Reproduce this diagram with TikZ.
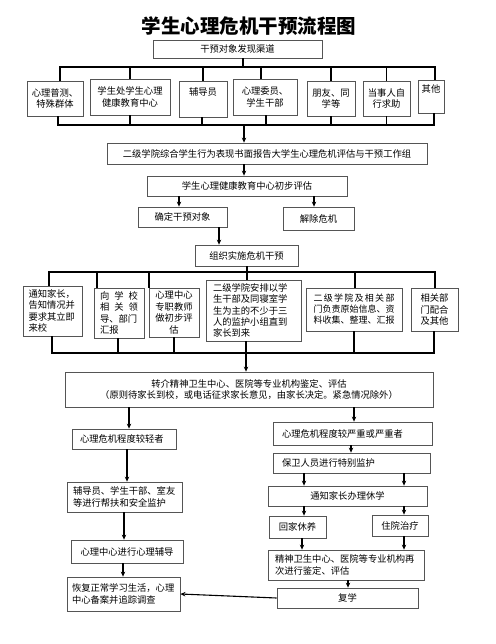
\documentclass[tikz,border=0pt]{standalone}
\usepackage{fontspec}
\setmainfont{Noto Sans CJK SC}
\usetikzlibrary{arrows.meta}
\definecolor{boxc}{RGB}{85,85,85}
\newcommand\fs{\fontsize{9.3}{11.5}\selectfont}
\newcommand\jl[1]{\noindent\hbox to \linewidth{#1}}
\tikzset{
 box/.style={draw=boxc, line width=0.8pt, inner sep=0pt, font=\fs, align=center, text=black},
 wh/.style 2 args={minimum width=#1, minimum height=#2},
 lb/.style 2 args={align=left, text width=#1, inner xsep=#2},
 conn/.style={line width=1.1pt, black},
 arr/.style={conn, -{Stealth[length=5pt,width=4.5pt]}}
}
\begin{document}
\begin{tikzpicture}[x=1pt,y=-1pt]
\useasboundingbox[fill=white] (0,0) rectangle (495,644);

% title
\node[font=\fontsize{19.5}{21}\selectfont\bfseries] (title) at (249,26.5) {学生心理危机干预流程图};

% source
\node[box, wh={169}{18}] (src) at (237.5,49) {干预对象发现渠道};

% row 1
\node[box, wh={56}{35}] (b1) at (55,98.5) {心理普测、\\特殊群体};
\node[box, wh={80}{36}] (b2) at (130,97) {学生处学生心理\\健康教育中心};
\node[box, wh={48}{36}] (b3) at (203,99) {辅导员\\\strut};
\node[box, wh={64}{36}] (b4) at (265,97) {心理委员、\\学生干部};
\node[box, wh={48}{35}] (b5) at (331,98.5) {朋友、同\\学等};
\node[box, wh={47}{35}] (b6) at (386.5,98.5) {当事人自\\行求助};
\node[box, wh={26}{33}] (b7) at (431,96.5) {其他\\\strut};

\coordinate (tbL) at (60,67);
\coordinate (tbR) at (435,67);
\coordinate (tbM) at (243,67);
\draw[conn] (tbM |- src.south) -- (tbM);
\draw[conn] (tbL |- b1.north) -- (tbL) -- (tbR) -- (tbR |- b7.north);
\draw[conn] (b2.north |- tbL) -- (b2.north);
\draw[conn] (b3.north |- tbL) -- (b3.north);
\draw[conn] ([xshift=-4pt]b4.north |- tbL) -- ([xshift=-4pt]b4.north);
\draw[conn] (b5.north |- tbL) -- (b5.north);
\draw[conn] (b6.north |- tbL) -- (b6.north);

\coordinate (bbL) at (58,125);
\coordinate (bbR) at (434,125);
\coordinate (bbM) at (244,125);
\draw[conn] (bbL |- b1.south) -- (bbL) -- (bbR) -- (bbR |- b7.south);
\draw[conn] (b2.south) -- (b2.south |- bbL);
\draw[conn] ([xshift=-1pt]b3.south) -- ([xshift=-1pt]b3.south |- bbL);
\draw[conn] ([xshift=1pt]b4.south) -- ([xshift=1pt]b4.south |- bbL);
\draw[conn] (b5.south) -- (b5.south |- bbL);
\draw[conn] (b6.south) -- (b6.south |- bbL);

% middle chain
\node[box, wh={320}{21}] (report) at (267,153.5) {二级学院综合学生行为表现书面报告大学生心理危机评估与干预工作组};
\node[box, wh={200}{20}] (assess) at (247,186) {学生心理健康教育中心初步评估};
\node[box, wh={89}{20}] (confirm) at (182.5,217) {确定干预对象};
\node[box, wh={71}{23}] (release) at (318.5,218.5) {解除危机};
\node[box, wh={103}{21}] (org) at (246.5,255.5) {组织实施危机干预};

\draw[arr] (bbM) -- (bbM |- report.north);
\draw[arr] (244,0 |- report.south) -- (244,0 |- assess.north);
\draw[arr] (179,0 |- assess.south) -- (179,0 |- confirm.north);
\draw[arr] (314,0 |- assess.south) -- (314,0 |- release.north);
\draw[arr] (219,0 |- confirm.south) -- (219,0 |- org.north);

% row 2
\node[box, wh={59}{50}, lb={48}{5.5}] (A) at (52.5,311) {通知家长，\\告知情况并\\要求其立即\\来校};
\node[box, wh={50}{50}, lb={38}{6}] (B) at (119,313) {\jl{向\hfil 学\hfil 校}\\\jl{相\hfil 关\hfil 领}\\导、部门\\汇报};
\node[box, wh={50}{49}] (C) at (174,312.5) {心理中心\\专职教师\\做初步评\\估};
\node[box, wh={95}{61}, lb={81}{7}, font=\fontsize{9.3}{11.3}\selectfont] (D) at (253.5,310.5) {二级学院安排以学\\生干部及同寝室学\\生为主的不少于三\\人的监护小组直到\\家长到来};
\node[box, wh={96}{43}, lb={81}{7.5}, font=\fontsize{9}{11}\selectfont] (E) at (354,309.5) {\jl{二\hfil 级\hfil 学\hfil 院\hfil 及\hfil 相\hfil 关\hfil 部}\\门负责原始信息、资\\料收集、整理、汇报};
\node[box, wh={47}{43}] (F) at (434.5,309.5) {相关部\\门配合\\及其他};

\coordinate (mtL) at (49,272);
\coordinate (mtR) at (435,272);
\draw[conn] (247,0 |- org.south) -- (247,0 |- D.north);
\draw[conn] (mtL |- A.north) -- (mtL) -- (mtR) -- (mtR |- F.north);
\draw[conn] (97,0 |- mtL) -- (97,0 |- B.north);
\draw[conn] (149,0 |- mtL) -- (149,0 |- C.north);
\draw[conn] (355,0 |- mtL) -- (355,0 |- E.north);

\coordinate (mbL) at (52,353);
\coordinate (mbR) at (434,353);
\draw[conn] (mbL |- A.south) -- (mbL) -- (mbR) -- (mbR |- F.south);
\draw[conn] (118,0 |- B.south) -- (118,0 |- mbL);
\draw[conn] (174,0 |- C.south) -- (174,0 |- mbL);
\draw[conn] (354,0 |- E.south) -- (354,0 |- mbL);

% referral
\node[box, wh={368}{35}] (refer) at (249,389.5) {转介精神卫生中心、医院等专业机构鉴定、评估\\（原则待家长到校，或电话征求家长意见，由家长决定。紧急情况除外）};
\draw[arr] (246,0 |- D.south) -- (246,0 |- refer.north);

% left column
\node[box, wh={104}{20}, lb={88}{8}] (L1) at (124,439) {心理危机程度较轻者};
\node[box, wh={115}{30}, lb={103}{6}] (L2) at (124.5,497) {辅导员、学生干部、室友\\等进行帮扶和安全监护};
\node[box, wh={112}{23}] (L3) at (127,551.5) {心理中心进行心理辅导};
\node[box, wh={113}{34}, lb={103}{5}] (L4) at (123.5,594) {恢复正常学习生活，心理\\中心备案并追踪调查};

\draw[arr] (129,0 |- refer.south) -- (129,0 |- L1.north);
\draw[arr] (127,0 |- L1.south) -- (127,0 |- L2.north);
\draw[arr] (124,0 |- L2.south) -- (124,0 |- L3.north);
\draw[arr] (123,0 |- L3.south) -- (123,0 |- L4.north);

% right column
\node[box, wh={159}{23}, lb={141}{9}] (R1) at (352.5,433.5) {心理危机程度较严重或严重者};
\node[box, wh={157}{20}, lb={139}{9}] (R2) at (351.5,463) {保卫人员进行特别监护};
\node[box, wh={159}{20}] (R3) at (347.5,496) {通知家长办理休学};
\node[box, wh={57}{22}] (R4) at (297.5,527) {回家休养};
\node[box, wh={56}{21}] (R5) at (400,525.5) {住院治疗};
\node[box, wh={156}{30}, lb={142}{7}] (R6) at (346,565) {精神卫生中心、医院等专业机构再\\次进行鉴定、评估};
\node[box, wh={141}{20}] (R7) at (347.5,598) {复学};

\draw[arr] (354,0 |- refer.south) -- (354,0 |- R1.north);
\draw[arr] (351,0 |- R1.south) -- (351,0 |- R2.north);
\draw[arr] (304,0 |- R2.south) -- (304,0 |- R3.north);
\draw[arr] (404,0 |- R2.south) -- (404,0 |- R3.north);
\draw[arr] (304,0 |- R3.south) -- (304,0 |- R4.north);
\draw[arr] (404,0 |- R3.south) -- (404,0 |- R5.north);
\draw[arr] (302,0 |- R4.south) -- (302,0 |- R6.north);
\draw[arr] (404,0 |- R5.south) -- (404,0 |- R6.north);
\draw[arr] (348,0 |- R6.south) -- (348,0 |- R7.north);
\draw[arr] (R7.west) -- (L4.east);
\end{tikzpicture}
\end{document}
